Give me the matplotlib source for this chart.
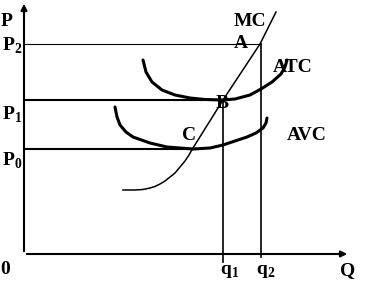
import matplotlib.pyplot as plt

plt.rcParams['font.family'] = 'Liberation Serif'
plt.rcParams['font.weight'] = 'bold'
plt.rcParams['mathtext.fontset'] = 'custom'
plt.rcParams['mathtext.rm'] = 'Liberation Serif:bold'
plt.rcParams['mathtext.bf'] = 'Liberation Serif:bold'

# key levels (Q, P units)
q1, q2 = 199, 237
p0, p1, p2 = 105, 154, 210

# cost curves
atc_q = [119, 122, 128, 138, 151, 166, 181, 199, 211, 226, 237, 248, 257, 261, 263]
atc_p = [194, 182, 172, 164, 159, 156, 154.5, 154, 155, 159, 165, 172, 180, 187, 194]

avc_q = [91, 93, 96, 102, 109, 126, 143, 169, 186, 199, 223, 232, 239, 242, 243]
avc_p = [147, 137, 129, 122, 117, 111, 107, 105, 106, 109, 117, 121, 126, 131, 136]

mc_q = [99, 111, 119, 126, 131, 136, 141, 146, 151, 156, 161, 165, 169, 199, 236, 252]
mc_p = [64, 64, 64.5, 66, 67.5, 70, 73, 77, 81, 87, 93, 99, 106, 154, 210, 242]

fig = plt.figure(figsize=(3.81, 2.89), dpi=100)
ax = fig.add_axes([0, 0, 1, 1])
ax.set_xlim(-24, 357)
ax.set_ylim(-35, 254)
ax.axis('off')

# axes with arrows
ax.annotate('', xy=(326, 0), xytext=(0, 0),
            arrowprops=dict(arrowstyle='-|>', lw=1.5, color='black', mutation_scale=9))
ax.annotate('', xy=(0, 253), xytext=(0, 0),
            arrowprops=dict(arrowstyle='-|>', lw=1.5, color='black', mutation_scale=9))

# price levels and quantities
ax.plot([0, q2], [p2, p2], color='black', lw=0.8)
ax.plot([0, q1], [p1, p1], color='black', lw=1.5)
ax.plot([0, 169], [p0, p0], color='black', lw=1.5)
ax.plot([q1, q1], [p1, -8], color='black', lw=1.2)
ax.plot([q2, q2], [p2, -3], color='black', lw=1.2)

ax.plot(atc_q, atc_p, color='black', lw=2.2, solid_capstyle='round')
ax.plot(avc_q, avc_p, color='black', lw=2.2, solid_capstyle='round')
ax.plot(mc_q, mc_p, color='black', lw=1.1)

fs = 14
kw = dict(fontsize=fs, ha='center', va='center', color='black')
ax.text(-17, 232, 'P', **kw)
ax.text(-12, 208, r'$\mathrm{P}_{2}$', **kw)
ax.text(-12, 139, r'$\mathrm{P}_{1}$', **kw)
ax.text(-12, 93, r'$\mathrm{P}_{0}$', **kw)
ax.text(-19, -15, '0', **kw)
ax.text(206, -17, r'$\mathrm{q}_{1}$', **kw)
ax.text(242, -17, r'$\mathrm{q}_{2}$', **kw)
ax.text(324, -17, 'Q', **kw)
ax.text(226, 233, 'MC', **kw)
ax.text(217, 210, 'A', **kw)
ax.text(269, 186, 'ATC', **kw)
ax.text(198, 151, 'B', **kw)
ax.text(165, 118, 'C', **kw)
ax.text(283, 118, 'AVC', **kw)

fig.savefig('out.png', dpi=100)
